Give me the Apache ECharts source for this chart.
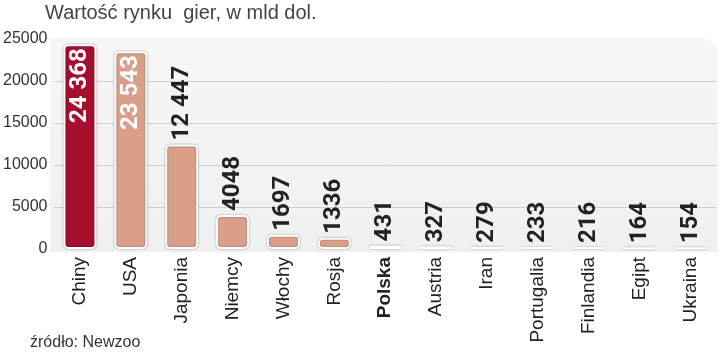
<!DOCTYPE html>
<html><head><meta charset="utf-8">
<script src="https://cdn.jsdelivr.net/npm/echarts@6/dist/echarts.min.js"></script>
<style>html,body{margin:0;padding:0;background:#fff}#c{width:720px;height:354px}</style>
</head><body><div id="c"></div>
<script>
const categories = ['Chiny','USA','Japonia','Niemcy','Włochy','Rosja','Polska','Austria','Iran','Portugalia','Finlandia','Egipt','Ukraina'];
const values = [24368, 23543, 12447, 4048, 1697, 1336, 431, 327, 279, 233, 216, 164, 154];
const yTicks = [0, 5000, 10000, 15000, 20000, 25000];
const highlightCountry = 'Chiny';
const boldCategory = 'Polska';
const insideLabelCount = 2;

function fmt(v){
  const s = String(v);
  return v >= 10000 ? s.slice(0, s.length-3) + ' ' + s.slice(-3) : s;
}
const valueFont = {fontFamily:'Roboto, "Liberation Sans Narrow", sans-serif', fontWeight:'bold', fontSize:24};

const chart = echarts.init(document.getElementById('c'));
chart.setOption({
  animation:false,
  title:{text:'Wartość rynku  gier, w mld dol.', left:40, top:-2,
    textStyle:{fontFamily:'"Liberation Sans", Arial, sans-serif', fontWeight:'normal', fontSize:20, color:'#444'}},
  graphic:[
    {type:'rect', z:-10, shape:{x:50,y:38,width:668,height:214,r:[0,16,0,0]},
     style:{fill:new echarts.graphic.LinearGradient(0,0,0,1,[{offset:0,color:'#f6f6f6'},{offset:1,color:'#f0f0f0'}])}},
    {type:'text', left:30, top:335, style:{text:'źródło: Newzoo', fill:'#333', font:'16px "Liberation Sans Narrow", sans-serif'}}
  ],
  grid:{left:53, right:4, top:39, bottom:105},
  xAxis:{type:'category', data:categories.map(c => c === boldCategory ? {value:c, textStyle:{fontWeight:'bold'}} : c),
    axisLine:{show:false}, axisTick:{show:false},
    axisLabel:{rotate:90, margin:8, fontSize:19, color:'#222', fontFamily:'"Liberation Sans", Arial, sans-serif'}},
  yAxis:{type:'value', min:yTicks[0], max:yTicks[yTicks.length-1], interval:5000,
    axisLine:{show:false}, axisTick:{show:false},
    axisLabel:{margin:7, fontSize:16, color:'#333', fontFamily:'"Liberation Sans", Arial, sans-serif',
      formatter: v => String(v)},
    splitLine:{show:true, lineStyle:{color:yTicks.map((t,i) => (i === 0 || i === yTicks.length-1) ? 'rgba(0,0,0,0)' : '#cfcfcf'), width:1}},
  },
  series:[{
    type:'bar', barWidth:33,
    data: values.map((v,i) => ({
      value:v,
      itemStyle:{color: categories[i] === highlightCountry ? '#A50E2C' : '#DA9F89'},
      label: i < insideLabelCount
        ? {show:true, position:'insideTop', rotate:90, align:'right', verticalAlign:'middle', distance:4, color:'#fff', ...valueFont}
        : {show:true, position:'top', rotate:90, align:'left', verticalAlign:'middle', distance:4, color:'#222', ...valueFont}
    })),
    itemStyle:{borderColor:'#fff', borderWidth:2, borderRadius:4, shadowColor:'rgba(0,0,0,0.35)', shadowBlur:2},
    label:{formatter: p => fmt(p.value)}
  }]
});
</script></body></html>
